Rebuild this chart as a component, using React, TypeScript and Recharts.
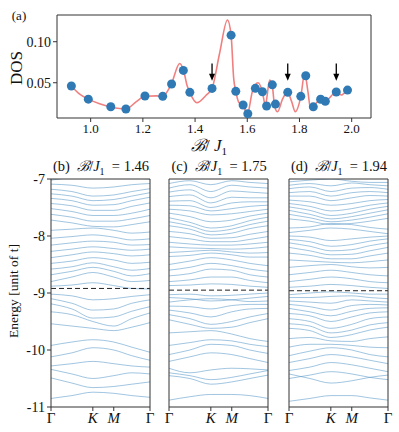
import React from "react";
import {
  ComposedChart,
  LineChart,
  Line,
  Scatter,
  XAxis,
  YAxis,
  ReferenceLine,
} from "recharts";

const FONT = "Liberation Serif";

// (a) DOS vs B/J1
const dosX = [
  0.926, 0.991, 1.077, 1.135, 1.208, 1.276, 1.31, 1.355, 1.38, 1.465, 1.538,
  1.556, 1.584, 1.602, 1.631, 1.658, 1.674, 1.696, 1.708, 1.755, 1.805, 1.824,
  1.853, 1.881, 1.899, 1.941, 1.984,
];
const dosY = [
  0.046, 0.03, 0.0207, 0.018, 0.0338, 0.0334, 0.0484, 0.065, 0.0383, 0.0431,
  0.108, 0.0395, 0.0228, 0.0122, 0.0432, 0.039, 0.0216, 0.0474, 0.024, 0.0383,
  0.0334, 0.0585, 0.0206, 0.0298, 0.0273, 0.0387, 0.041,
];
// smoothed curve
const fitX = [
  0.926, 0.958, 0.991, 1.034, 1.077, 1.11, 1.135, 1.175, 1.208, 1.252, 1.276,
  1.295, 1.31, 1.341, 1.355, 1.37, 1.38, 1.407, 1.443, 1.465, 1.494, 1.524,
  1.538, 1.548, 1.556, 1.568, 1.584, 1.6, 1.62, 1.641, 1.658, 1.669, 1.686,
  1.696, 1.705, 1.716, 1.735, 1.754, 1.77, 1.784, 1.805, 1.82, 1.832, 1.843,
  1.852, 1.881, 1.899, 1.941, 1.96, 1.978,
];
const fitY = [
  0.046, 0.036, 0.03, 0.0245, 0.0205, 0.0185, 0.018, 0.027, 0.0335, 0.034,
  0.0333, 0.04, 0.049, 0.0735, 0.066, 0.046, 0.038, 0.0256, 0.035, 0.0431,
  0.086, 0.1265, 0.108, 0.055, 0.0395, 0.026, 0.0228, 0.0118, 0.04, 0.05, 0.039,
  0.0228, 0.0533, 0.046, 0.0207, 0.0146, 0.03, 0.0385, 0.027, 0.0146, 0.033,
  0.0615, 0.04, 0.0175, 0.0204, 0.0295, 0.028, 0.0387, 0.035, 0.04,
];
const arrowX = [1.465, 1.755, 1.941];
const dosTicksX = [1.0, 1.2, 1.4, 1.6, 1.8, 2.0];
const dosTicksY = [0.05, 0.1];

// (b)-(d) bands along Γ-K-M-Γ
const kPoints = [0, 0.5, 1, 1.5, 1.93, 2.366];
const kTicks = [0, 1, 1.5, 2.366];
const kLabels = ["Γ", "K", "M", "Γ"];
const eTicks = [-11, -10, -9, -8, -7];
const ratios = ["1.46", "1.75", "1.94"];
const panelTags = ["(b)", "(c)", "(d)"];
const fermi = [-8.92, -8.95, -8.96];

const bandsB = [
  [-7.02, -6.97, -6.93, -6.95, -6.98, -7.0],
  [-7.09, -7.11, -7.16, -7.14, -7.1, -7.08],
  [-7.18, -7.22, -7.3, -7.28, -7.22, -7.17],
  [-7.26, -7.3, -7.38, -7.36, -7.3, -7.24],
  [-7.34, -7.38, -7.46, -7.45, -7.38, -7.32],
  [-7.43, -7.47, -7.55, -7.55, -7.48, -7.42],
  [-7.52, -7.57, -7.64, -7.64, -7.6, -7.53],
  [-7.62, -7.67, -7.74, -7.74, -7.7, -7.64],
  [-7.72, -7.77, -7.83, -7.84, -7.8, -7.75],
  [-7.9, -7.88, -7.86, -7.9, -7.95, -7.93],
  [-8.04, -8.01, -7.98, -8.02, -8.07, -8.05],
  [-8.16, -8.12, -8.09, -8.11, -8.16, -8.15],
  [-8.27, -8.23, -8.19, -8.22, -8.25, -8.23],
  [-8.38, -8.33, -8.28, -8.31, -8.35, -8.33],
  [-8.48, -8.44, -8.38, -8.42, -8.48, -8.46],
  [-8.58, -8.54, -8.47, -8.54, -8.6, -8.57],
  [-8.68, -8.62, -8.55, -8.62, -8.7, -8.66],
  [-8.8, -8.72, -8.64, -8.72, -8.8, -8.78],
  [-8.88, -8.86, -8.82, -8.87, -8.92, -8.93],
  [-9.02, -9.05, -9.12, -9.1, -9.06, -9.03],
  [-9.1, -9.18, -9.3, -9.28, -9.18, -9.12],
  [-9.19, -9.28, -9.44, -9.42, -9.32, -9.24],
  [-9.33, -9.38, -9.5, -9.58, -9.45, -9.35],
  [-9.54, -9.58, -9.62, -9.66, -9.6, -9.52],
  [-9.92, -9.86, -9.82, -9.86, -9.95, -10.04],
  [-10.12, -10.05, -9.96, -10.0, -10.1, -10.18],
  [-10.28, -10.24, -10.2, -10.24, -10.28, -10.3],
  [-10.34, -10.42, -10.5, -10.45, -10.4, -10.42],
  [-10.49, -10.58, -10.66, -10.64, -10.6, -10.56],
  [-10.85, -10.8, -10.74, -10.76, -10.8, -10.83],
];

const bandsC = [
  [-7.08, -7.03, -7.1, -7.03, -7.06, -7.08],
  [-7.16, -7.1, -7.22, -7.11, -7.14, -7.16],
  [-7.23, -7.19, -7.33, -7.21, -7.23, -7.25],
  [-7.31, -7.28, -7.42, -7.32, -7.33, -7.33],
  [-7.39, -7.38, -7.5, -7.42, -7.4, -7.4],
  [-7.46, -7.47, -7.56, -7.52, -7.48, -7.46],
  [-7.53, -7.56, -7.63, -7.61, -7.57, -7.53],
  [-7.6, -7.66, -7.75, -7.72, -7.65, -7.6],
  [-7.68, -7.76, -7.86, -7.82, -7.73, -7.67],
  [-7.75, -7.82, -7.92, -7.88, -7.8, -7.74],
  [-7.82, -7.88, -7.98, -7.95, -7.87, -7.82],
  [-7.92, -7.96, -8.04, -8.03, -7.97, -7.92],
  [-8.01, -8.05, -8.1, -8.1, -8.06, -8.01],
  [-8.11, -8.14, -8.16, -8.16, -8.14, -8.11],
  [-8.19, -8.21, -8.22, -8.23, -8.22, -8.19],
  [-8.29, -8.27, -8.25, -8.28, -8.3, -8.29],
  [-8.36, -8.34, -8.3, -8.33, -8.37, -8.37],
  [-8.5, -8.44, -8.38, -8.42, -8.48, -8.52],
  [-8.6, -8.55, -8.48, -8.52, -8.58, -8.62],
  [-8.7, -8.66, -8.58, -8.6, -8.68, -8.72],
  [-8.8, -8.77, -8.72, -8.72, -8.78, -8.82],
  [-8.87, -8.86, -8.84, -8.85, -8.88, -8.9],
  [-9.03, -9.02, -9.05, -9.04, -9.02, -9.0],
  [-9.08, -9.1, -9.14, -9.12, -9.09, -9.06],
  [-9.16, -9.12, -9.1, -9.12, -9.15, -9.14],
  [-9.23, -9.24, -9.28, -9.22, -9.2, -9.2],
  [-9.3, -9.35, -9.42, -9.33, -9.28, -9.27],
  [-9.38, -9.45, -9.55, -9.5, -9.42, -9.36],
  [-9.47, -9.55, -9.62, -9.6, -9.52, -9.45],
  [-9.7, -9.68, -9.66, -9.72, -9.8, -9.85],
  [-9.92, -9.87, -9.82, -9.84, -9.9, -9.94],
  [-10.08, -10.0, -9.9, -9.92, -10.0, -10.06],
  [-10.2, -10.12, -10.05, -10.08, -10.15, -10.22],
  [-10.32, -10.4, -10.35, -10.32, -10.33, -10.35],
  [-10.4, -10.45, -10.52, -10.48, -10.42, -10.36],
  [-10.45, -10.5, -10.6, -10.56, -10.5, -10.44],
  [-10.88, -10.82, -10.78, -10.78, -10.8, -10.85],
];

const bandsD = [
  [-7.05, -7.02, -7.0, -7.04, -7.06, -7.06],
  [-7.11, -7.08, -7.12, -7.07, -7.1, -7.12],
  [-7.17, -7.14, -7.22, -7.16, -7.15, -7.18],
  [-7.24, -7.22, -7.3, -7.24, -7.22, -7.24],
  [-7.3, -7.3, -7.38, -7.33, -7.29, -7.3],
  [-7.37, -7.4, -7.46, -7.43, -7.38, -7.36],
  [-7.43, -7.48, -7.56, -7.52, -7.46, -7.42],
  [-7.49, -7.55, -7.64, -7.6, -7.53, -7.48],
  [-7.55, -7.62, -7.7, -7.66, -7.6, -7.54],
  [-7.62, -7.68, -7.75, -7.72, -7.67, -7.61],
  [-7.7, -7.74, -7.8, -7.78, -7.74, -7.69],
  [-7.86, -7.84, -7.78, -7.8, -7.85, -7.88],
  [-7.94, -7.9, -7.86, -7.88, -7.92, -7.96],
  [-8.0, -8.02, -8.08, -8.05, -8.02, -8.0],
  [-8.06, -8.1, -8.18, -8.15, -8.09, -8.05],
  [-8.12, -8.18, -8.26, -8.24, -8.17, -8.12],
  [-8.2, -8.26, -8.33, -8.32, -8.26, -8.2],
  [-8.3, -8.34, -8.4, -8.4, -8.35, -8.3],
  [-8.42, -8.44, -8.46, -8.47, -8.45, -8.42],
  [-8.55, -8.52, -8.5, -8.54, -8.56, -8.55],
  [-8.68, -8.64, -8.6, -8.64, -8.68, -8.7],
  [-8.8, -8.76, -8.72, -8.75, -8.8, -8.82],
  [-8.9, -8.88, -8.85, -8.87, -8.9, -8.92],
  [-9.03, -9.0, -8.98, -9.0, -9.02, -9.02],
  [-9.08, -9.08, -9.06, -9.05, -9.08, -9.1],
  [-9.14, -9.16, -9.18, -9.12, -9.14, -9.16],
  [-9.2, -9.24, -9.3, -9.22, -9.2, -9.21],
  [-9.27, -9.33, -9.4, -9.32, -9.27, -9.26],
  [-9.36, -9.4, -9.5, -9.42, -9.35, -9.33],
  [-9.45, -9.5, -9.62, -9.55, -9.45, -9.42],
  [-9.54, -9.58, -9.7, -9.65, -9.56, -9.52],
  [-9.62, -9.66, -9.78, -9.73, -9.65, -9.6],
  [-9.8, -9.78, -9.84, -9.85, -9.8, -9.77],
  [-9.95, -9.9, -9.9, -9.92, -9.95, -9.96],
  [-10.1, -10.02, -9.96, -10.0, -10.08, -10.12],
  [-10.22, -10.15, -10.08, -10.12, -10.18, -10.24],
  [-10.36, -10.3, -10.22, -10.26, -10.32, -10.38],
  [-10.5, -10.44, -10.38, -10.42, -10.48, -10.52],
  [-10.42, -10.5, -10.58, -10.54, -10.48, -10.44],
  [-10.9, -10.85, -10.8, -10.8, -10.84, -10.88],
];

const panelLefts = [51, 169, 289];
const AXIS = "#333";
const BAND = "#4a8fc4";

const abs = (x: number, y: number): React.CSSProperties => ({
  position: "absolute",
  left: x,
  top: y,
  transform: "translate(-50%, -50%)",
  whiteSpace: "nowrap",
  fontFamily: FONT,
  color: "#111",
  lineHeight: 1,
});

function KTick(props: any) {
  const { x, y, payload } = props;
  const i = kTicks.indexOf(payload.value);
  const lab = kLabels[i] ?? "";
  return (
    <text
      x={x}
      y={y + 10}
      textAnchor="middle"
      fontFamily={FONT}
      fontSize={15}
      fontStyle={lab === "Γ" ? "normal" : "italic"}
      fill="#111"
    >
      {lab}
    </text>
  );
}

function ArrowHead(props: any) {
  const { cx, cy } = props;
  return (
    <path d={`M${cx - 3},${cy - 7}L${cx + 3},${cy - 7}L${cx},${cy}Z`} fill="#000" />
  );
}

function BandPanel({ idx, bands }: { idx: number; bands: number[][] }) {
  const rows = kPoints.map((k, i) => {
    const r: Record<string, number> = { k };
    bands.forEach((b, j) => (r["b" + j] = b[i]));
    return r;
  });
  const left = panelLefts[idx];
  return (
    <div style={{ position: "absolute", left: left - 30, top: 168 }}>
      <LineChart
        width={139}
        height={264}
        data={rows}
        margin={{ top: 10, right: 9, left: 0, bottom: 0 }}
      >
        <XAxis
          xAxisId="b"
          dataKey="k"
          type="number"
          domain={[0, 2.366]}
          ticks={kTicks}
          interval={0}
          height={25}
          stroke={AXIS}
          tickSize={4}
          tick={<KTick />}
          allowDataOverflow
        />
        <XAxis
          xAxisId="t"
          orientation="top"
          dataKey="k"
          type="number"
          domain={[0, 2.366]}
          height={1}
          tick={false}
          tickLine={false}
          stroke={AXIS}
        />
        <YAxis
          yAxisId="l"
          width={30}
          type="number"
          domain={[-11, -7]}
          ticks={eTicks}
          interval={0}
          allowDataOverflow
          stroke={AXIS}
          tickSize={4}
          tick={
            idx === 0
              ? { fill: "#111", fontSize: 14, fontFamily: FONT }
              : false
          }
        />
        <YAxis
          yAxisId="r"
          orientation="right"
          width={1}
          type="number"
          domain={[-11, -7]}
          tick={false}
          tickLine={false}
          stroke={AXIS}
        />
        {bands.map((_, j) => (
          <Line
            key={j}
            xAxisId="b"
            yAxisId="l"
            dataKey={"b" + j}
            type="monotone"
            dot={false}
            stroke={BAND}
            strokeWidth={0.7}
            strokeOpacity={0.75}
            isAnimationActive={false}
          />
        ))}
        <ReferenceLine
          xAxisId="b"
          yAxisId="l"
          y={fermi[idx]}
          stroke="#222"
          strokeWidth={1}
          strokeDasharray="5 3"
        />
      </LineChart>
      <div style={{ ...abs(80, 0), fontSize: 14.5 }}>
        {panelTags[idx]}&nbsp;&nbsp;<i>ℬ</i>/<i>J</i>
        <sub style={{ fontSize: 10 }}>1</sub>&nbsp; = {ratios[idx]}
      </div>
    </div>
  );
}

export default function App() {
  const pts = dosX.map((x, i) => ({ x, y: dosY[i] }));
  const fit = fitX.map((x, i) => ({ x, y: fitY[i] }));
  const heads = arrowX.map((x) => ({ x, y: 0.0524 }));
  return (
    <div
      style={{
        position: "absolute",
        left: 0,
        top: 0,
        width: 399,
        height: 432,
        background: "#fff",
        fontFamily: FONT,
      }}
    >
      <div style={{ position: "absolute", left: 0, top: 0 }}>
        <ComposedChart
          width={399}
          height={160}
          margin={{ top: 14, right: 27, left: 7, bottom: 0 }}
        >
          <XAxis
            xAxisId="b"
            dataKey="x"
            type="number"
            domain={[0.871, 2.074]}
            ticks={dosTicksX}
            interval={0}
            tickFormatter={(v: number) => v.toFixed(1)}
            allowDataOverflow
            height={42}
            stroke={AXIS}
            tickSize={4}
            tick={{ fill: "#111", fontSize: 13, fontFamily: FONT }}
          />
          <XAxis
            xAxisId="t"
            orientation="top"
            dataKey="x"
            type="number"
            domain={[0.871, 2.074]}
            height={1}
            tick={false}
            tickLine={false}
            stroke={AXIS}
          />
          <YAxis
            yAxisId="l"
            dataKey="y"
            type="number"
            domain={[0.007, 0.1326]}
            ticks={dosTicksY}
            interval={0}
            tickFormatter={(v: number) => v.toFixed(2)}
            allowDataOverflow
            width={50}
            stroke={AXIS}
            tickSize={4}
            tick={{ fill: "#111", fontSize: 14, fontFamily: FONT }}
          />
          <YAxis
            yAxisId="r"
            orientation="right"
            type="number"
            domain={[0.007, 0.1326]}
            width={1}
            tick={false}
            tickLine={false}
            stroke={AXIS}
          />
          <Line
            xAxisId="b"
            yAxisId="l"
            data={fit}
            dataKey="y"
            type="monotone"
            dot={false}
            stroke="#f08080"
            strokeWidth={1.6}
            isAnimationActive={false}
          />
          <Scatter
            xAxisId="b"
            yAxisId="l"
            data={pts}
            dataKey="y"
            fill="#2f7ab5"
            shape={(p: any) => <circle cx={p.cx} cy={p.cy} r={4.5} fill="#2f7ab5" />}
            isAnimationActive={false}
          />
          {arrowX.map((x) => (
            <ReferenceLine
              key={x}
              xAxisId="b"
              yAxisId="l"
              segment={[
                { x, y: 0.0736 },
                { x, y: 0.056 },
              ]}
              stroke="#000"
              strokeWidth={1.3}
            />
          ))}
          <Scatter
            xAxisId="b"
            yAxisId="l"
            data={heads}
            dataKey="y"
            shape={<ArrowHead />}
            isAnimationActive={false}
          />
        </ComposedChart>
      </div>
      <div style={{ ...abs(19, 15), fontSize: 13 }}>(a)</div>
      <div
        style={{
          ...abs(16, 68),
          fontSize: 17,
          transform: "translate(-50%, -50%) rotate(-90deg)",
        }}
      >
        DOS
      </div>
      <div style={{ ...abs(209, 147), fontSize: 17 }}>
        <i>ℬ</i>/ <i>J</i>
        <sub style={{ fontSize: 11 }}>1</sub>
      </div>
      <div
        style={{
          ...abs(14, 291),
          fontSize: 13.5,
          transform: "translate(-50%, -50%) rotate(-90deg)",
        }}
      >
        Energy [unit of t]
      </div>
      <BandPanel idx={0} bands={bandsB} />
      <BandPanel idx={1} bands={bandsC} />
      <BandPanel idx={2} bands={bandsD} />
    </div>
  );
}
